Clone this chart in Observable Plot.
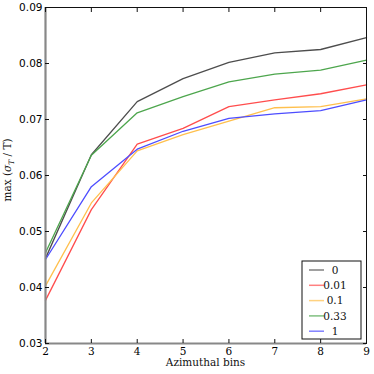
<!DOCTYPE html>
<html>
<head>
<meta charset="utf-8">
<script src="https://cdn.jsdelivr.net/npm/d3@7"></script>
<script src="https://cdn.jsdelivr.net/npm/@observablehq/plot@0.6"></script>
<style>
  html, body { margin: 0; padding: 0; background: #fff; }
  #chart svg { display: block; }
</style>
</head>
<body>
<div id="chart"></div>
<script>
const bins = [2, 3, 4, 5, 6, 7, 8, 9];
const seriesNames = ["0", "0.01", "0.1", "0.33", "1"];
const s0    = [0.0452, 0.0637, 0.0732, 0.0773, 0.0802, 0.0819, 0.0825, 0.0846];
const s001  = [0.0377, 0.0539, 0.0656, 0.0684, 0.0723, 0.0735, 0.0746, 0.0762];
const s01   = [0.0403, 0.0551, 0.0644, 0.0673, 0.0697, 0.0721, 0.0723, 0.0737];
const s033  = [0.0462, 0.0636, 0.0712, 0.0741, 0.0767, 0.0781, 0.0788, 0.0806];
const s1    = [0.0450, 0.0580, 0.0647, 0.0679, 0.0702, 0.0710, 0.0716, 0.0735];
const seriesColors = ["#4d4d4d", "#ff4d4d", "#ffc04d", "#4da64d", "#4d4dff"];
const legendColors = ["#808080", "#ff8080", "#ffd280", "#80c080", "#8080ff"];
const xTicks = [2, 3, 4, 5, 6, 7, 8, 9];
const yTicks = [0.03, 0.04, 0.05, 0.06, 0.07, 0.08, 0.09];
const xDomain = [2, 9];
const yDomain = [0.03, 0.09];

const allSeries = [s0, s001, s01, s033, s1];
const rows = [];
allSeries.forEach((vals, i) => vals.forEach((v, j) => rows.push({bin: bins[j], value: v, series: seriesNames[i]})));

const W = 374, H = 374;
const mL = 45, mR = 8, mT = 7, mB = 31;

const chart = Plot.plot({
  width: W, height: H,
  marginLeft: mL, marginRight: mR, marginTop: mT, marginBottom: mB,
  x: {domain: xDomain},
  y: {domain: yDomain},
  color: {domain: seriesNames, range: seriesColors},
  style: {background: "#fff", overflow: "visible"},
  marks: [
    Plot.line(rows, {x: "bin", y: "value", z: "series", stroke: "series", strokeWidth: 1.3}),
    Plot.frame({stroke: "#111", strokeWidth: 1}),
    Plot.ruleX([xDomain[0]], {stroke: "#888", strokeWidth: 2.2}),
    Plot.ruleY([yDomain[0]], {stroke: "#888", strokeWidth: 2.2}),
    Plot.axisX({anchor: "bottom", ticks: xTicks, tickSize: -4, tickPadding: 8, tickFormat: d3.format("d"),
      fontFamily: "DejaVu Serif", fontSize: 10.5, label: null, stroke: "#111"}),
    Plot.axisX({anchor: "top", ticks: xTicks, tickSize: -4, tickFormat: () => "", label: null, stroke: "#111"}),
    Plot.axisY({anchor: "left", ticks: yTicks, tickSize: -4, tickPadding: 7, tickFormat: d3.format(".2f"),
      fontFamily: "DejaVu Sans", fontSize: 10.5, label: null, stroke: "#111"}),
    Plot.axisY({anchor: "right", ticks: yTicks, tickSize: -4, tickFormat: () => "", label: null, stroke: "#111"})
  ]
});
document.getElementById("chart").appendChild(chart);

const svg = d3.select(chart);
// x label
svg.append("text")
  .attr("x", mL + (W - mL - mR) / 2).attr("y", 366)
  .attr("text-anchor", "middle")
  .attr("font-family", "DejaVu Serif").attr("font-size", 10.5).attr("fill", "#111")
  .text("Azimuthal bins");
// y label
const yl = svg.append("text")
  .attr("transform", `translate(11,170) rotate(-90)`)
  .attr("text-anchor", "middle")
  .attr("font-family", "DejaVu Serif").attr("font-size", 10.5).attr("fill", "#111");
yl.append("tspan").text("max (");
yl.append("tspan").attr("font-style", "italic").text("σ");
yl.append("tspan").attr("font-style", "italic").attr("font-size", 7.5).attr("dy", 2.5).text("T");
yl.append("tspan").attr("dy", -2.5).text(" / T)");

// legend
const lg = svg.append("g");
const lx = 302, ly = 261, lw = 59, lh = 78, rowH = 15.3;
lg.append("rect").attr("x", lx).attr("y", ly).attr("width", lw).attr("height", lh)
  .attr("fill", "#fff").attr("stroke", "#111").attr("stroke-width", 1);
seriesNames.forEach((name, i) => {
  const cy = ly + 9 + i * rowH;
  lg.append("line").attr("x1", lx + 7).attr("x2", lx + 22).attr("y1", cy).attr("y2", cy)
    .attr("stroke", legendColors[i]).attr("stroke-width", 1.5);
  lg.append("text").attr("x", lx + 33).attr("y", cy).attr("dy", "0.35em")
    .attr("font-family", "DejaVu Serif").attr("font-size", 10.5).attr("fill", "#111").text(name);
});
</script>
</body>
</html>
